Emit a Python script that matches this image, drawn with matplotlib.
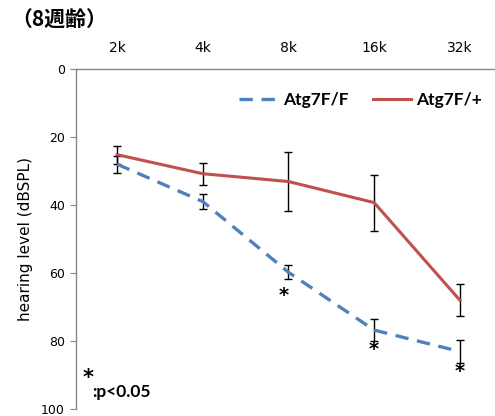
import matplotlib
matplotlib.use("Agg")
import matplotlib.pyplot as plt
from matplotlib.lines import Line2D

freqs = ["2k", "4k", "8k", "16k", "32k"]
ff_mean = [28, 39, 59.8, 76.8, 83.1]
ff_err = [2.5, 2.2, 2.1, 3.3, 3.4]
fp_mean = [25.2, 30.8, 33.1, 39.3, 68.0]
fp_err = [2.7, 3.3, 8.7, 8.2, 4.7]
star_x = [1.95, 3.0, 4.0]
star_y = [66.5, 82.5, 89.0]

blue = "#4F81BD"
red = "#C0504D"
dash = (0, (4, 2.6))

fig = plt.figure(figsize=(4.95, 4.16), dpi=100)
ax = fig.add_axes([76/495, 1-409/416, 1-76/495, (409-69)/416])
x = list(range(len(freqs)))

ax.errorbar(x, ff_mean, yerr=ff_err, color=blue, lw=2.4, ls=dash,
            ecolor="black", elinewidth=1, capsize=3, capthick=1, zorder=3)
ax.errorbar(x, fp_mean, yerr=fp_err, color=red, lw=2.2,
            ecolor="black", elinewidth=1, capsize=3, capthick=1, zorder=3)

for sx, sy in zip(star_x, star_y):
    ax.text(sx, sy, "*", ha="center", va="center", fontsize=14, fontweight="bold")

ax.set_xlim(-0.48, 4.41)
ax.set_ylim(100, 0)
ax.set_yticks([0, 20, 40, 60, 80, 100])
ax.set_xticks(x)
ax.set_xticklabels(freqs, fontsize=10)
ax.xaxis.tick_top()
ax.tick_params(axis="x", length=0, pad=10)
ax.tick_params(axis="y", length=4, color="#888888", labelsize=9, pad=4)
for s in ["right", "bottom"]:
    ax.spines[s].set_visible(False)
for s in ["left", "top"]:
    ax.spines[s].set_color("#888888")
    ax.spines[s].set_linewidth(1)

ax.set_ylabel("hearing level (dBSPL)", fontsize=11, labelpad=6)

handles = [Line2D([], [], color=blue, lw=2.4, ls=dash),
           Line2D([], [], color=red, lw=2.2)]
leg = ax.legend(handles, ["Atg7F/F", "Atg7F/+"], loc="center left",
                bbox_to_anchor=(0.39, 0.91), ncol=2, frameon=False,
                prop={"weight": "bold", "size": 12.5, "family": "Lato"},
                handlelength=2.2, handletextpad=0.3, columnspacing=1.4,
                borderaxespad=0, borderpad=0)

ax.text(0.038, 0.025, ":p<0.05", transform=ax.transAxes, fontsize=12.5, fontweight="bold",
        family="Lato", ha="left", va="bottom")
ax.text(0.029, 0.063, "*", transform=ax.transAxes, fontsize=15, fontweight="bold",
        ha="center", va="bottom")

fig.text(11/495, 1-20/416, "（8週齢）", fontsize=15, fontweight="bold",
         family=["Noto Sans CJK JP", "DejaVu Sans"], ha="left", va="center")

fig.savefig("out.png", dpi=100)
